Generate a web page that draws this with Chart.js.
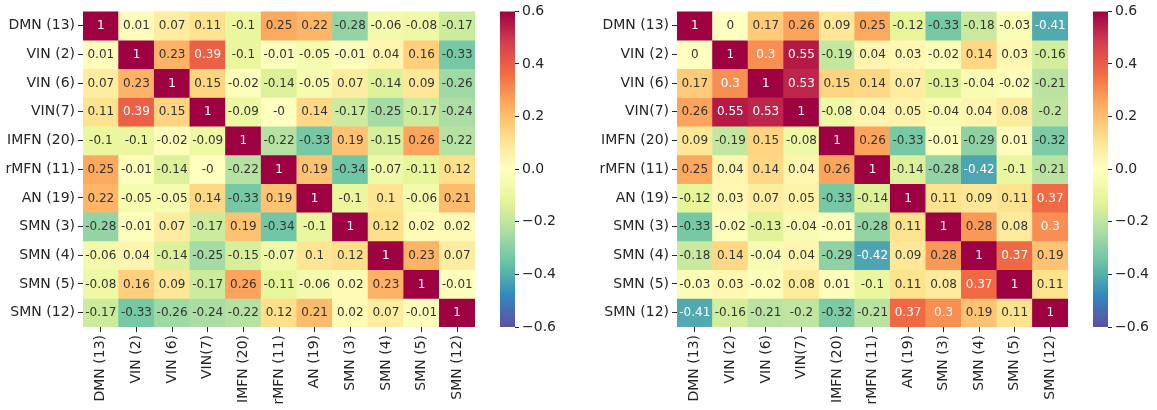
<!DOCTYPE html>
<html>
<head>
<meta charset="utf-8">
<script src="https://cdn.jsdelivr.net/npm/chart.js@4/dist/chart.umd.min.js"></script>
<style>
  html, body { margin: 0; padding: 0; background: #ffffff; }
  body { width: 1157px; height: 410px; position: relative; overflow: hidden; }
  canvas { position: absolute; top: 0; }
</style>
</head>
<body>
<canvas id="heatLeft" width="480" height="410" style="left:0px"></canvas>
<canvas id="barLeft" width="70" height="410" style="left:490px"></canvas>
<canvas id="heatRight" width="473" height="410" style="left:600px"></canvas>
<canvas id="barRight" width="74" height="410" style="left:1083px"></canvas>
<script>
// network labels (rows and columns are the same)
const networks = ['DMN (13)', 'VIN (2)', 'VIN (6)', 'VIN(7)', 'IMFN (20)', 'rMFN (11)',
                  'AN (19)', 'SMN (3)', 'SMN (4)', 'SMN (5)', 'SMN (12)'];

// left panel correlations
const leftValues = [
  [1, 0.01, 0.07, 0.11, -0.1, 0.25, 0.22, -0.28, -0.06, -0.08, -0.17],
  [0.01, 1, 0.23, 0.39, -0.1, -0.01, -0.05, -0.01, 0.04, 0.16, -0.33],
  [0.07, 0.23, 1, 0.15, -0.02, -0.14, -0.05, 0.07, -0.14, 0.09, -0.26],
  [0.11, 0.39, 0.15, 1, -0.09, -0, 0.14, -0.17, -0.25, -0.17, -0.24],
  [-0.1, -0.1, -0.02, -0.09, 1, -0.22, -0.33, 0.19, -0.15, 0.26, -0.22],
  [0.25, -0.01, -0.14, -0, -0.22, 1, 0.19, -0.34, -0.07, -0.11, 0.12],
  [0.22, -0.05, -0.05, 0.14, -0.33, 0.19, 1, -0.1, 0.1, -0.06, 0.21],
  [-0.28, -0.01, 0.07, -0.17, 0.19, -0.34, -0.1, 1, 0.12, 0.02, 0.02],
  [-0.06, 0.04, -0.14, -0.25, -0.15, -0.07, 0.1, 0.12, 1, 0.23, 0.07],
  [-0.08, 0.16, 0.09, -0.17, 0.26, -0.11, -0.06, 0.02, 0.23, 1, -0.01],
  [-0.17, -0.33, -0.26, -0.24, -0.22, 0.12, 0.21, 0.02, 0.07, -0.01, 1]
];

// right panel correlations
const rightValues = [
  [1, 0, 0.17, 0.26, 0.09, 0.25, -0.12, -0.33, -0.18, -0.03, -0.41],
  [0, 1, 0.3, 0.55, -0.19, 0.04, 0.03, -0.02, 0.14, 0.03, -0.16],
  [0.17, 0.3, 1, 0.53, 0.15, 0.14, 0.07, -0.13, -0.04, -0.02, -0.21],
  [0.26, 0.55, 0.53, 1, -0.08, 0.04, 0.05, -0.04, 0.04, 0.08, -0.2],
  [0.09, -0.19, 0.15, -0.08, 1, 0.26, -0.33, -0.01, -0.29, 0.01, -0.32],
  [0.25, 0.04, 0.14, 0.04, 0.26, 1, -0.14, -0.28, -0.42, -0.1, -0.21],
  [-0.12, 0.03, 0.07, 0.05, -0.33, -0.14, 1, 0.11, 0.09, 0.11, 0.37],
  [-0.33, -0.02, -0.13, -0.04, -0.01, -0.28, 0.11, 1, 0.28, 0.08, 0.3],
  [-0.18, 0.14, -0.04, 0.04, -0.29, -0.42, 0.09, 0.28, 1, 0.37, 0.19],
  [-0.03, 0.03, -0.02, 0.08, 0.01, -0.1, 0.11, 0.08, 0.37, 1, 0.11],
  [-0.41, -0.16, -0.21, -0.2, -0.32, -0.21, 0.37, 0.3, 0.19, 0.11, 1]
];

// colour range and colorbar ticks
const vmin = -0.6;
const vmax = 0.6;
const colorbarTicks = [-0.6, -0.4, -0.2, 0, 0.2, 0.4, 0.6];

// Spectral_r (low -> high)
const spectral = ['#5e4fa2', '#3288bd', '#66c2a5', '#abdda4', '#e6f598', '#ffffbf',
                  '#fee08b', '#fdae61', '#f46d43', '#d53e4f', '#9e0142'];

const FONT = "'DejaVu Sans', sans-serif";
const TEXT = '#262626';

function hexToRgb(h) {
    return [parseInt(h.slice(1, 3), 16), parseInt(h.slice(3, 5), 16), parseInt(h.slice(5, 7), 16)];
}

function rgbFor(v) {
    let t = (v - vmin) / (vmax - vmin);
    t = Math.max(0, Math.min(1, t));
    const pos = t * (spectral.length - 1);
    const i = Math.min(Math.floor(pos), spectral.length - 2);
    const f = pos - i;
    const a = hexToRgb(spectral[i]), b = hexToRgb(spectral[i + 1]);
    return a.map((c, k) => Math.round(c + (b[k] - c) * f));
}

function colorFor(v) {
    const [r, g, b] = rgbFor(v);
    return `rgb(${r},${g},${b})`;
}

// same rule seaborn uses to pick the annotation colour
function textColorFor(v) {
    const lin = rgbFor(v).map(c => {
        c = c / 255;
        return c <= 0.03928 ? c / 12.92 : Math.pow((c + 0.055) / 1.055, 2.4);
    });
    const lum = 0.2126 * lin[0] + 0.7152 * lin[1] + 0.0722 * lin[2];
    return lum > 0.408 ? '#333333' : '#ffffff';
}

function fmt(v) {
    if (Object.is(v, -0)) return '-0';
    return String(v);
}

const annotate = {
    id: 'annotate',
    afterDatasetsDraw(chart) {
        const ctx = chart.ctx;
        ctx.save();
        ctx.font = `12px ${FONT}`;
        ctx.textAlign = 'center';
        ctx.textBaseline = 'middle';
        chart.data.datasets.forEach((ds, r) => {
            chart.getDatasetMeta(r).data.forEach((bar, c) => {
                const v = ds.values[c];
                const p = bar.getCenterPoint();
                ctx.fillStyle = textColorFor(v);
                ctx.fillText(fmt(v), p.x, p.y + 0.5);
            });
        });
        ctx.restore();
    }
};

function makeHeatmap(id, values, labelWidth) {
    const datasets = values.map((row, r) => ({
        data: row.map(() => [r, r + 1]),
        values: row,
        backgroundColor: row.map(colorFor),
        borderWidth: 0,
        grouped: false,
        barPercentage: 1,
        categoryPercentage: 1
    }));

    return new Chart(document.getElementById(id), {
        type: 'bar',
        data: { labels: networks, datasets: datasets },
        plugins: [annotate],
        options: {
            responsive: false,
            animation: false,
            devicePixelRatio: 1,
            layout: { padding: { top: 10, right: 5, left: 0, bottom: 0 } },
            plugins: { legend: { display: false }, tooltip: { enabled: false } },
            scales: {
                x: {
                    type: 'category',
                    border: { display: false },
                    grid: { drawOnChartArea: false, offset: false, tickLength: 5, color: TEXT },
                    ticks: {
                        autoSkip: false, minRotation: 90, maxRotation: 90, padding: 3,
                        color: TEXT, font: { family: FONT, size: 14 }
                    },
                    afterFit(scale) { scale.height = 83; }
                },
                y: {
                    type: 'linear',
                    min: 0,
                    max: networks.length,
                    reverse: true,
                    border: { display: false },
                    grid: { drawOnChartArea: false, tickLength: 5, color: TEXT },
                    ticks: {
                        padding: 3, color: TEXT, font: { family: FONT, size: 14 },
                        callback: (value, index) => networks[index]
                    },
                    afterBuildTicks(scale) {
                        scale.ticks = networks.map((_, i) => ({ value: i + 0.5 }));
                    },
                    afterFit(scale) { scale.width = labelWidth; }
                }
            }
        }
    });
}

function makeColorbar(id, axisWidth) {
    return new Chart(document.getElementById(id), {
        type: 'bar',
        data: {
            labels: ['scale'],
            datasets: [{
                data: [[vmin, vmax]],
                borderWidth: 0,
                barPercentage: 1,
                categoryPercentage: 1,
                backgroundColor(context) {
                    const chart = context.chart;
                    const ys = chart.scales.y;
                    if (!chart.chartArea || !ys) return 'transparent';
                    const g = chart.ctx.createLinearGradient(0, ys.getPixelForValue(vmin), 0, ys.getPixelForValue(vmax));
                    spectral.forEach((c, i) => g.addColorStop(i / (spectral.length - 1), c));
                    return g;
                }
            }]
        },
        options: {
            responsive: false,
            animation: false,
            devicePixelRatio: 1,
            layout: { padding: { top: 10, left: 10, right: 0, bottom: 83 } },
            plugins: { legend: { display: false }, tooltip: { enabled: false } },
            scales: {
                x: { display: false },
                y: {
                    position: 'right',
                    min: vmin,
                    max: vmax,
                    border: { display: false },
                    grid: { drawOnChartArea: false, tickLength: 4, color: TEXT },
                    ticks: {
                        padding: 3, color: TEXT, font: { family: FONT, size: 14 },
                        callback(value) {
                            if (Math.abs(value) < 1e-9) return '0.0';
                            return value.toFixed(1).replace('-', '\u2212');
                        }
                    },
                    afterBuildTicks(scale) {
                        scale.ticks = colorbarTicks.map(v => ({ value: v }));
                    },
                    afterFit(scale) { scale.width = axisWidth; }
                }
            }
        }
    });
}

makeHeatmap('heatLeft', leftValues, 83);
makeColorbar('barLeft', 45);
makeHeatmap('heatRight', rightValues, 77);
makeColorbar('barRight', 49);
</script>
</body>
</html>
